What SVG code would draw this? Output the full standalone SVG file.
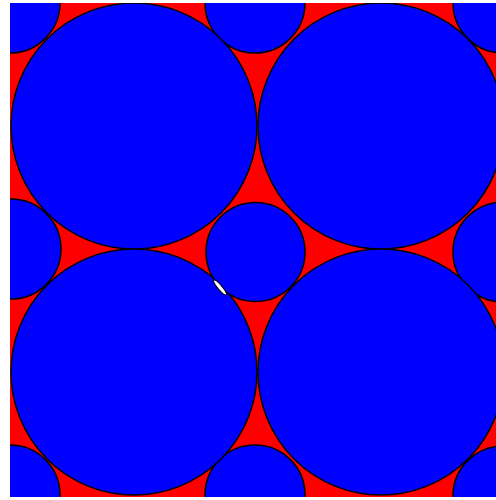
<svg xmlns="http://www.w3.org/2000/svg" width="496" height="500" viewBox="0 0 496 500">
<style>
.c{fill:#0000FF;stroke:#000;stroke-width:1.5}
</style>
<defs><clipPath id="plot"><rect x="10" y="3" width="487" height="494"/></clipPath></defs>
<rect width="496" height="500" fill="#fff"/>
<g clip-path="url(#plot)">
<rect x="10" y="3" width="487" height="494" fill="#FF0000"/>
<circle class="c" cx="10" cy="3" r="50"/>
<circle class="c" cx="255" cy="3" r="50"/>
<circle class="c" cx="503" cy="3" r="50"/>
<circle class="c" cx="11" cy="249" r="50"/>
<circle class="c" cx="503" cy="252" r="50"/>
<circle class="c" cx="10" cy="495" r="50"/>
<circle class="c" cx="255" cy="495" r="50"/>
<circle class="c" cx="503" cy="496" r="50"/>
<circle class="c" cx="134" cy="126" r="123"/>
<circle class="c" cx="381" cy="126" r="123"/>
<circle class="c" cx="134" cy="372" r="123"/>
<circle class="c" cx="381" cy="372" r="123"/>
<circle class="c" cx="255.5" cy="252" r="49.5"/>
<ellipse cx="220" cy="287.5" rx="9.5" ry="2.2" transform="rotate(50 220 287.5)" fill="#fff" stroke="#000" stroke-width="1"/>
</g>
</svg>
